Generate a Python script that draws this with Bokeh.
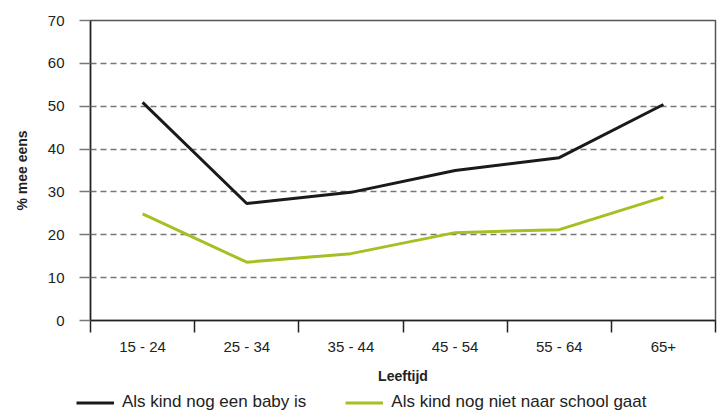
from bokeh.plotting import figure
from bokeh.layouts import column
from bokeh.models import Range1d, FixedTicker, Legend, LegendItem
from bokeh.embed import file_html
from bokeh.resources import INLINE

categories = ["15 - 24", "25 - 34", "35 - 44", "45 - 54", "55 - 64", "65+"]
baby = [50.9, 27.3, 29.9, 35.0, 38.0, 50.4]
school = [24.9, 13.6, 15.6, 20.5, 21.2, 28.8]
yticks = [0, 10, 20, 30, 40, 50, 60, 70]
series_names = ["Als kind nog een baby is", "Als kind nog niet naar school gaat"]
series_colors = ["#1a1a1a", "#a6bf22"]

FONT = "Liberation Sans"
xs = [i + 0.5 for i in range(len(categories))]

p = figure(width=724, height=388, output_backend="svg", toolbar_location=None,
           x_range=Range1d(0, len(categories)), y_range=Range1d(0, 70),
           min_border_left=90, min_border_right=9, min_border_top=20, min_border_bottom=68)
p.frame_align = False

p.line(xs, baby, line_color=series_colors[0], line_width=3)
p.line(xs, school, line_color=series_colors[1], line_width=3)

# x axis
xa = p.xaxis[0]
xa.ticker = FixedTicker(ticks=xs, minor_ticks=list(range(len(categories) + 1)))
xa.major_label_overrides = {x: c for x, c in zip(xs, categories)}
xa.major_tick_out = 0
xa.major_tick_in = 0
xa.minor_tick_out = 12
xa.minor_tick_in = 0
xa.minor_tick_line_color = "#222222"
xa.minor_tick_line_width = 1.5
xa.axis_line_color = "#222222"
xa.axis_line_width = 1.5
xa.major_label_text_font = FONT
xa.major_label_text_font_size = "15px"
xa.major_label_text_color = "#222222"
xa.major_label_standoff = 5
xa.axis_label = "Leeftijd"
xa.axis_label_text_font = FONT
xa.axis_label_text_font_size = "14px"
xa.axis_label_text_font_style = "bold"
xa.axis_label_text_color = "#222222"
xa.axis_label_standoff = 10

# y axis
ya = p.yaxis[0]
ya.ticker = FixedTicker(ticks=yticks, minor_ticks=[])
ya.major_tick_out = 11
ya.major_tick_in = 0
ya.major_tick_line_color = "#777777"
ya.major_tick_line_width = 1.5
ya.axis_line_color = "#222222"
ya.axis_line_width = 1.5
ya.major_label_text_font = FONT
ya.major_label_text_font_size = "15px"
ya.major_label_text_color = "#222222"
ya.major_label_standoff = 15
ya.axis_label = "% mee eens"
ya.axis_label_text_font = FONT
ya.axis_label_text_font_size = "14px"
ya.axis_label_text_font_style = "bold"
ya.axis_label_text_color = "#222222"
ya.axis_label_standoff = 15

p.xgrid.grid_line_color = None
p.ygrid.ticker = FixedTicker(ticks=yticks[1:-1])
p.ygrid.grid_line_color = "#777777"
p.ygrid.grid_line_dash = "6 4"
p.ygrid.grid_line_width = 1.5

p.outline_line_color = "#555555"
p.outline_line_width = 1.5

# legend strip below the chart (series drawn off-view, only the legend shows)
pl = figure(width=724, height=24, output_backend="svg", toolbar_location=None,
            x_range=Range1d(0, len(categories)), y_range=Range1d(-200, -100),
            x_axis_type=None, y_axis_type=None,
            min_border_left=0, min_border_right=0, min_border_top=0, min_border_bottom=0)
pl.frame_align = False
pl.xgrid.grid_line_color = None
pl.ygrid.grid_line_color = None
pl.outline_line_color = None
items = []
for name, color, vals in zip(series_names, series_colors, [baby, school]):
    rr = pl.line(xs, vals, line_color=color, line_width=3)
    items.append(LegendItem(label=name, renderers=[rr]))
legend = Legend(items=items, location=(76, 0), orientation="horizontal",
                glyph_width=38, glyph_height=17, label_height=17, label_standoff=8,
                spacing=39, padding=0, margin=0,
                label_text_font=FONT, label_text_font_size="17px", label_text_color="#222222",
                border_line_color=None, background_fill_alpha=0)
pl.add_layout(legend, "center")

layout = column(p, pl, spacing=0)
open("out.html", "w").write(file_html(layout, INLINE))
